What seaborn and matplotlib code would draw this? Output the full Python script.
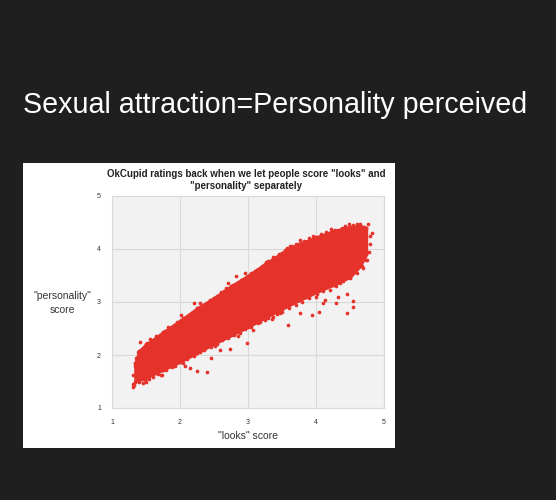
import matplotlib
matplotlib.use("Agg")
import matplotlib.pyplot as plt
import seaborn as sns
import pandas as pd
from matplotlib.patches import Rectangle

sns.set_theme(style="white")
plt.rcParams['font.family'] = ['Liberation Sans', 'DejaVu Sans']

slide_title = "Sexual attraction=Personality perceived"
chart_title = "OkCupid ratings back when we let people score \"looks\" and\n\"personality\" separately"
x_label = "\"looks\" score"
y_label = "\"personality\"\nscore"
ticks = [1, 2, 3, 4, 5]

# dense core of the cloud: upper and lower edges
band_x = [1.34, 1.4, 1.5, 1.75, 2.0, 2.25, 2.5, 2.75, 3.0, 3.25, 3.5, 3.75, 4.0, 4.25, 4.5, 4.65, 4.74]
band_hi = [1.85, 2.08, 2.2, 2.43, 2.65, 2.88, 3.08, 3.3, 3.5, 3.72, 3.93, 4.1, 4.22, 4.34, 4.42, 4.44, 4.4]
band_lo = [1.5, 1.52, 1.57, 1.72, 1.87, 2.04, 2.21, 2.37, 2.53, 2.7, 2.87, 3.03, 3.18, 3.32, 3.47, 3.68, 3.9]

# scattered points at the fringe of the cloud
pts_x = [1.31, 1.31, 1.37, 1.41, 1.45, 1.36, 1.63, 1.98, 2.02, 2.12, 2.25, 2.39, 2.14, 1.98,
         1.46, 1.43, 2.20, 2.44, 2.59, 2.74, 2.45,
         3.59, 4.55, 4.46, 4.30, 4.11, 2.98, 3.08, 3.76, 3.94, 4.05, 3.47, 3.37, 3.18,
         2.83, 2.71, 2.84, 2.44, 2.29,
         4.82, 4.77, 4.60, 4.48, 4.28, 4.01, 3.89, 3.76, 3.57, 3.37, 3.27, 3.13, 2.96,
         4.55, 4.45, 4.35, 4.69, 4.74, 4.33, 4.13, 4.01, 3.86,
         1.38, 1.45, 1.52, 1.58, 1.65, 1.70, 1.78, 1.85, 1.90, 1.95, 2.05, 2.10, 2.18, 2.30,
         2.35, 2.42, 2.55, 2.60, 2.65, 2.78, 2.90, 3.05, 3.10, 3.20, 3.30, 3.45, 3.55, 3.65,
         3.70, 3.82, 3.95, 4.08, 4.15, 4.22, 4.38, 4.42, 4.55, 4.65, 4.70,
         1.33, 1.40, 1.48, 1.55, 1.60, 1.68, 1.72, 1.80, 1.88, 1.93, 2.05, 2.10, 2.20, 2.30,
         2.35, 2.45, 2.55, 2.62, 2.70, 2.80, 2.88, 2.95, 3.05, 3.15, 3.25, 3.30, 3.42, 3.50,
         3.60, 3.70, 3.80, 3.90, 4.00, 4.10, 4.20, 4.30, 4.40, 4.50, 4.60, 4.68, 4.75, 4.78,
         4.80, 4.79,
         1.31, 1.34, 1.39, 1.50, 1.56, 1.74, 1.82, 2.08, 2.16, 2.52, 2.68, 2.86, 3.35, 3.62]
pts_y = [1.39, 1.46, 1.60, 2.25, 1.94, 1.94, 2.25, 2.44, 2.75, 2.41, 1.69, 1.67, 1.75, 1.91,
         1.47, 1.78, 2.98, 3.00, 2.09, 2.11, 1.94,
         2.57, 2.90, 2.79, 2.99, 2.98, 2.23, 2.47, 2.79, 2.75, 2.82, 2.79, 2.72, 2.63,
         3.49, 3.35, 3.35, 3.04, 2.98,
         4.30, 4.48, 4.48, 4.48, 4.36, 4.23, 4.20, 4.17, 4.01, 3.85, 3.76, 3.60, 3.54,
         3.01, 3.16, 3.35, 3.64, 3.79, 3.10, 3.04, 3.16, 3.10,
         2.05, 2.12, 2.22, 2.25, 2.35, 2.33, 2.45, 2.50, 2.55, 2.62, 2.70, 2.68, 2.80, 2.90,
         2.95, 2.98, 3.12, 3.18, 3.20, 3.32, 3.42, 3.55, 3.58, 3.68, 3.78, 3.90, 3.98, 4.05,
         4.10, 4.15, 4.25, 4.28, 4.32, 4.38, 4.40, 4.44, 4.45, 4.47, 4.42,
         1.43, 1.50, 1.52, 1.55, 1.58, 1.65, 1.62, 1.72, 1.78, 1.80, 1.85, 1.92, 1.98, 2.05,
         2.10, 2.15, 2.20, 2.28, 2.32, 2.38, 2.42, 2.50, 2.52, 2.60, 2.66, 2.70, 2.78, 2.82,
         2.88, 2.95, 3.00, 3.08, 3.10, 3.20, 3.22, 3.30, 3.40, 3.45, 3.55, 3.68, 3.80, 3.95,
         4.10, 4.25,
         1.62, 1.80, 1.70, 1.50, 2.30, 1.62, 2.52, 1.80, 2.78, 2.17, 3.26, 2.36, 2.68, 4.06]

RED = "#e5322b"
W, H = 556, 500
fig = plt.figure(figsize=(W / 100, H / 100), dpi=100, facecolor="#1f1f1f")

fig.text(23 / W, 1 - 105 / H, slide_title, color="white", fontsize=20.6,
         ha="left", va="center", fontfamily=["Liberation Sans", "DejaVu Sans"])

# white panel of the embedded chart
fig.patches.append(Rectangle((23 / W, 1 - 448 / H), 372 / W, 285 / H,
                             transform=fig.transFigure, facecolor="white",
                             edgecolor="none", zorder=0))

ax = fig.add_axes([112 / W, 1 - 408 / H, 272 / W, 212 / H])
ax.set_facecolor("#f2f2f2")
ax.set_zorder(2)

ax.fill_between(band_x, band_lo, band_hi, color=RED, linewidth=2.0, edgecolor=RED, zorder=3)
df = pd.DataFrame({"x": pts_x, "y": pts_y})
sns.scatterplot(data=df, x="x", y="y", ax=ax, color=RED, s=7, linewidth=0, zorder=4)
edge = pd.DataFrame({"x": band_x + band_x, "y": band_hi + band_lo})
sns.scatterplot(data=edge, x="x", y="y", ax=ax, color=RED, s=8, linewidth=0, zorder=4)

ax.set_xlim(1, 5)
ax.set_ylim(1, 5)
ax.set_xticks(ticks)
ax.set_yticks(ticks)
ax.set_xticklabels([str(t) for t in ticks], fontsize=5)
ax.set_yticklabels([str(t) for t in ticks], fontsize=5)
ax.tick_params(length=0, pad=8, colors="#333333")
ax.grid(True, color="#d9d9d9", linewidth=0.8)
ax.set_axisbelow(True)
for s in ax.spines.values():
    s.set_color("#d9d9d9")
    s.set_linewidth(0.8)
ax.set_xlabel("")
ax.set_ylabel("")

fig.text(246 / W, 1 - 180 / H, chart_title, color="#222222", fontsize=7,
         fontweight="bold", ha="center", va="center", linespacing=1.3)
fig.text(248 / W, 1 - 436 / H, x_label, color="#333333", fontsize=7.5,
         ha="center", va="center")
fig.text(62 / W, 1 - 303 / H, y_label, color="#333333", fontsize=7.5,
         ha="center", va="center", linespacing=1.4)

fig.savefig("out.png", dpi=100, facecolor=fig.get_facecolor())
